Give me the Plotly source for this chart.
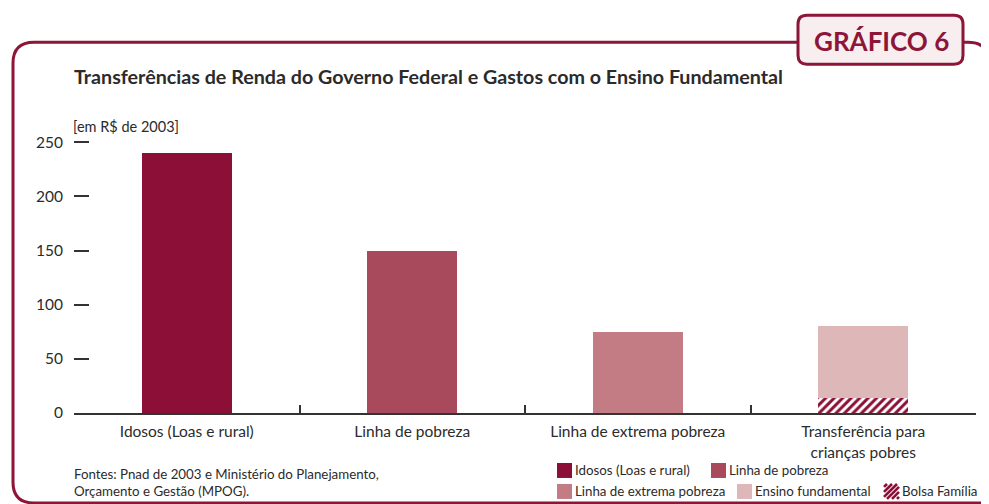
import plotly.graph_objects as go

# ---- data ----
categories = ["Idosos (Loas e rural)", "Linha de pobreza", "Linha de extrema pobreza",
              "Transferência para<br>crianças pobres"]
idosos = [240, None, None, None]
linha_pobreza = [None, 150, None, None]
linha_extrema = [None, None, 75, None]
bolsa_familia = [None, None, None, 14]
ensino_fundamental = [None, None, None, 66]
y_ticks = [0, 50, 100, 150, 200, 250]

C_IDOSOS = "#8C0F37"
C_POBREZA = "#A84A5B"
C_EXTREMA = "#C37B84"
C_ENSINO = "#DEB7B9"
C_FRAME = "#8C1538"
TXT = "#2b2b2b"
FONT = "Lato"

# page is offset by the default 8px body margin
OFF = 8
PW, PH = 989, 504
W, H = PW - OFF, PH - OFF
Y_MAX = 252
L, R, B = 74, 976, 413            # plot area in page pixels
T = B - (B - 142) * Y_MAX / 250   # so that 250 sits at page y=142


def px(x):
    return (x - L) / (R - L)


def py(y):
    return (B - y) / (B - T)


fig = go.Figure()
bw = 0.4
fig.add_bar(x=categories, y=idosos, marker_color=C_IDOSOS, width=bw, name="Idosos (Loas e rural)")
fig.add_bar(x=categories, y=linha_pobreza, marker_color=C_POBREZA, width=bw, name="Linha de pobreza")
fig.add_bar(x=categories, y=linha_extrema, marker_color=C_EXTREMA, width=bw, name="Linha de extrema pobreza")
fig.add_bar(x=categories, y=bolsa_familia, width=bw, name="Bolsa Família",
            marker=dict(color="white", line=dict(width=0),
                        pattern=dict(shape="/", fgcolor=C_IDOSOS, bgcolor="white",
                                     size=6, solidity=0.5, fillmode="replace")))
fig.add_bar(x=categories, y=ensino_fundamental, marker_color=C_ENSINO, width=bw, name="Ensino fundamental")
fig.update_traces(marker_line_width=0, selector=dict(type="bar"))

shapes = []
# frame (rounded), interrupted by the title box
shapes.append(dict(type="path", xref="paper", yref="paper",
                   path=f"M {px(798)},{py(42)} L {px(34)},{py(42)} Q {px(13)},{py(42)} {px(13)},{py(63)} "
                        f"L {px(13)},{py(482)} Q {px(13)},{py(503)} {px(34)},{py(503)} L {px(1000)},{py(503)}",
                   line=dict(color=C_FRAME, width=3)))
shapes.append(dict(type="path", xref="paper", yref="paper",
                   path=f"M {px(963)},{py(42)} L {px(968)},{py(42)} Q {px(989)},{py(42)} {px(989)},{py(63)} "
                        f"L {px(989)},{py(520)}",
                   line=dict(color=C_FRAME, width=3)))
# title box
x0, x1, y0, y1, r = 798, 963, 15, 64, 9
shapes.append(dict(type="path", xref="paper", yref="paper",
                   path=(f"M {px(x0+r)},{py(y0)} L {px(x1-r)},{py(y0)} Q {px(x1)},{py(y0)} {px(x1)},{py(y0+r)} "
                         f"L {px(x1)},{py(y1-r)} Q {px(x1)},{py(y1)} {px(x1-r)},{py(y1)} "
                         f"L {px(x0+r)},{py(y1)} Q {px(x0)},{py(y1)} {px(x0)},{py(y1-r)} "
                         f"L {px(x0)},{py(y0+r)} Q {px(x0)},{py(y0)} {px(x0+r)},{py(y0)} Z"),
                   fillcolor="#F8EEEF", line=dict(color=C_FRAME, width=3)))

annotations = []
annotations.append(dict(text="GRÁFICO 6", x=px(881), y=py(41), xref="paper", yref="paper",
                        showarrow=False, font=dict(family=FONT, size=26, color=C_FRAME, weight="bold"),
                        xanchor="center", yanchor="middle"))
annotations.append(dict(text="Transferências de Renda do Governo Federal e Gastos com o Ensino Fundamental",
                        x=px(72), y=py(76), xref="paper", yref="paper", showarrow=False,
                        font=dict(family=FONT, size=19.7, color=TXT, weight="bold"),
                        xanchor="left", yanchor="middle"))
annotations.append(dict(text="[em R$ de 2003]", x=px(71), y=py(126), xref="paper", yref="paper",
                        showarrow=False, font=dict(family=FONT, size=14.5, color=TXT),
                        xanchor="left", yanchor="middle"))
annotations.append(dict(text="Fontes: Pnad de 2003 e Ministério do Planejamento,<br>Orçamento e Gestão (MPOG).",
                        x=px(72), y=py(483), xref="paper", yref="paper", showarrow=False,
                        font=dict(family=FONT, size=13.3, color=TXT), align="left",
                        xanchor="left", yanchor="middle"))

# legend (manual)
legend_items = [
    ("Idosos (Loas e rural)", C_IDOSOS, 557, 470.5),
    ("Linha de pobreza", C_POBREZA, 711, 470.5),
    ("Linha de extrema pobreza", C_EXTREMA, 557, 491.5),
    ("Ensino fundamental", C_ENSINO, 737, 491.5),
    ("Bolsa Família", None, 884, 491.5),
]
s = 15
for name, col, lx, ly in legend_items:
    if col is not None:
        shapes.append(dict(type="rect", xref="paper", yref="paper",
                           x0=px(lx), x1=px(lx + s), y0=py(ly - s / 2), y1=py(ly + s / 2),
                           fillcolor=col, line=dict(width=0)))
    else:
        # hatched square glyph
        sx0, sy0 = lx, ly - s / 2
        for c in range(-12, 32, 5):
            u0 = max(0, c - s)
            u1 = min(s, c)
            if u1 <= u0:
                continue
            shapes.append(dict(type="line", xref="paper", yref="paper",
                               x0=px(sx0 + u0), y0=py(sy0 + (c - u0)),
                               x1=px(sx0 + u1), y1=py(sy0 + (c - u1)),
                               line=dict(color=C_IDOSOS, width=2.6)))
    annotations.append(dict(text=name, x=px(lx + s + 1), y=py(ly), xref="paper", yref="paper",
                            showarrow=False, font=dict(family=FONT, size=13.3, color=TXT),
                            xanchor="left", yanchor="middle"))

fig.update_layout(
    width=W, height=H,
    margin=dict(l=L - OFF, r=W - (R - OFF), t=T - OFF, b=H - (B - OFF), pad=0),
    paper_bgcolor="white", plot_bgcolor="white",
    barmode="stack", showlegend=False,
    font=dict(family=FONT, color=TXT),
    shapes=shapes, annotations=annotations,
    xaxis=dict(type="category", range=[-0.5, 3.5], tickson="boundaries", ticks="inside",
               ticklen=8, tickwidth=1.5, tickcolor="#333", showline=True, linecolor="#333",
               linewidth=1.5, showgrid=False, tickfont=dict(size=15.5, color=TXT, family=FONT),
               ticklabelstandoff=4, fixedrange=True),
    yaxis=dict(range=[0, Y_MAX], tickvals=y_ticks, ticks="inside", ticklen=15, tickwidth=1.5,
               tickcolor="#333", showline=False, showgrid=False, zeroline=False,
               ticklabelstandoff=10, tickfont=dict(size=15.5, color=TXT, family=FONT), fixedrange=True),
)

fig.write_html("out.html")
